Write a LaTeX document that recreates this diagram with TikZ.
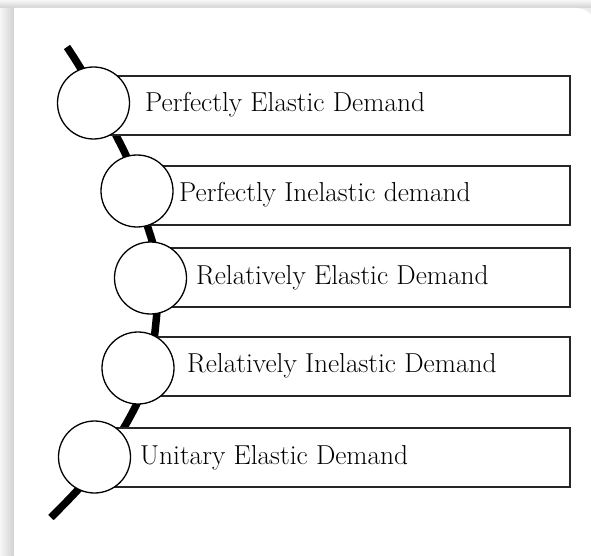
\documentclass[tikz,border=0pt]{standalone}
\begin{document}
\begin{tikzpicture}[x=1pt,y=1pt,
  bubble/.style={circle, draw=black, line width=1.3pt, fill=white, minimum size=72pt, inner sep=0pt},
  bar/.style={rectangle, draw=black!85, line width=1.6pt, fill=white, minimum height=59pt, inner sep=0pt, anchor=east},
  lbl/.style={anchor=base west, inner sep=0pt, font=\fontsize{27.4}{32}\selectfont},
  spine/.style={line width=7.5pt, draw=black}
]
\useasboundingbox (0,0) rectangle (591,555);
% background and panel
\fill[black!7] (0,0) rectangle (591,555);
\shade[left color=black!3, right color=black!18] (0,0) rectangle (14,547);
\shade[top color=black!3, bottom color=black!18] (0,555) rectangle (591,547);
\fill[white] (14,0) -- (14,547) -- (576,547) arc[start angle=90, end angle=0, radius=20] -- (596,0) -- cycle;

% spine
\coordinate (s0) at (67,508);
\coordinate (s1) at (121,410);
\coordinate (s2) at (150,321);
\coordinate (s3) at (156,233);
\coordinate (s4) at (130,138);
\coordinate (s5) at (51,37.5);
\draw[spine] (s0) to[out=-56,in=117.5] (s1) to[out=-62.5,in=108.3] (s2)
  to[out=-71.7,in=84.3] (s3) to[out=-95.7,in=61.2] (s4) to[out=-118.8,in=45] (s5);

% boxes
\node[bar, minimum width=477.5pt] (b1) at (571,449.5) {};
\node[bar, minimum width=434pt]   (b2) at (571,359.5) {};
\node[bar, minimum width=420.5pt] (b3) at (571,277.5) {};
\node[bar, minimum width=433pt]   (b4) at (571,188.5) {};
\node[bar, minimum width=476.5pt] (b5) at (571,97.5) {};

% circles
\node[bubble] (c1) at (93.5,452) {};
\node[bubble] (c2) at (137,364) {};
\node[bubble] (c3) at (150.5,277) {};
\node[bubble] (c4) at (138,187) {};
\node[bubble] (c5) at (94.5,98) {};

% labels
\node[lbl] (t1) at (145,443) {Perfectly Elastic Demand};
\node[lbl] (t2) at (179,353) {Perfectly Inelastic demand};
\node[lbl] (t3) at (196,271) {Relatively Elastic Demand};
\node[lbl] (t4) at (187,183) {Relatively Inelastic Demand};
\node[lbl] (t5) at (140,91) {Unitary Elastic Demand};
\end{tikzpicture}
\end{document}
